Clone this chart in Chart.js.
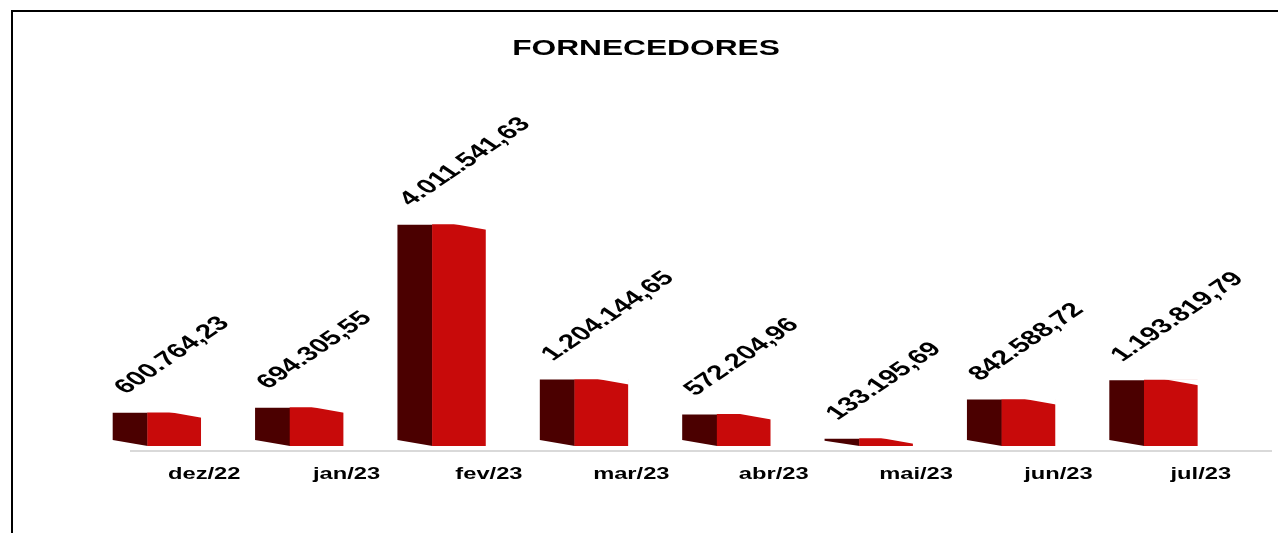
<!DOCTYPE html>
<html>
<head>
<meta charset="utf-8">
<title>FORNECEDORES</title>
<script src="https://cdn.jsdelivr.net/npm/chart.js@4/dist/chart.umd.min.js"></script>
<style>
    body { margin: 0; background: #fff; }
    canvas { display: block; }
</style>
</head>
<body>
<canvas id="fornecedores_chart" width="1278" height="533"></canvas>
<script>
const chartTitle = "FORNECEDORES";
const months = ["dez/22", "jan/23", "fev/23", "mar/23", "abr/23", "mai/23", "jun/23", "jul/23"];
const totals = [600764.23, 694305.55, 4011541.63, 1204144.65, 572204.96, 133195.69, 842588.72, 1193819.79];

const barDepth = 35;      // width of the dark side face
const textStretch = 1.48; // the picture is stretched sideways
const fontName = '"Liberation Sans", Arial, sans-serif';

function formatValue(value) {
    let parts = value.toFixed(2).split(".");
    return parts[0].replace(/\B(?=(\d{3})+(?!\d))/g, ".") + "," + parts[1];
}

function stretchedText(ctx, text, x, y, angle, stretch = textStretch) {
    ctx.save();
    ctx.translate(x, y);
    ctx.scale(stretch, 1);
    if(angle) ctx.rotate(angle);
    ctx.fillText(text, 0, 0);
    ctx.restore();
}

const fakeThreeD = {
    id: "fakeThreeD",
    beforeDatasetsDraw(chart) {
        let ctx = chart.ctx;
        let bars = chart.getDatasetMeta(0).data;
        ctx.save();

        // floor line, pushed back like the 3D floor
        ctx.strokeStyle = "#d9d9d9";
        ctx.lineWidth = 2;
        ctx.beginPath();
        ctx.moveTo(chart.chartArea.left + 27, chart.chartArea.bottom + 5);
        ctx.lineTo(chart.chartArea.right + 30, chart.chartArea.bottom + 5);
        ctx.stroke();

        ctx.fillStyle = "#4b0000";
        bars.forEach(bar => {
            let left = bar.x - bar.width / 2;
            ctx.beginPath();
            ctx.moveTo(left - barDepth, bar.y);
            ctx.lineTo(left, bar.y);
            ctx.lineTo(left, bar.base);
            ctx.lineTo(left - barDepth, Math.max(bar.base - 6, bar.y + 2));
            ctx.closePath();
            ctx.fill();
        });
        ctx.restore();
    },
    afterDatasetsDraw(chart) {
        // slanted top edge of the front face
        let ctx = chart.ctx;
        ctx.save();
        ctx.fillStyle = "#fff";
        chart.getDatasetMeta(0).data.forEach(bar => {
            let left = bar.x - bar.width / 2;
            let right = bar.x + bar.width / 2;
            ctx.beginPath();
            ctx.moveTo(left + 20, bar.y - 1);
            ctx.lineTo(right + 1, bar.y - 1);
            ctx.lineTo(right + 1, bar.y + 5);
            ctx.closePath();
            ctx.fill();
        });
        ctx.restore();
    },
    afterDraw(chart) {
        let ctx = chart.ctx;
        let bars = chart.getDatasetMeta(0).data;
        let xScale = chart.scales.x;
        ctx.save();
        ctx.fillStyle = "#000";

        // title
        ctx.font = `bold 22px ${fontName}`;
        ctx.textAlign = "center";
        ctx.textBaseline = "alphabetic";
        stretchedText(ctx, chartTitle, 646, 55, 0, 1.44);

        // value labels
        ctx.font = `bold 20px ${fontName}`;
        ctx.textAlign = "left";
        bars.forEach((bar, i) => {
            let left = bar.x - bar.width / 2;
            stretchedText(ctx, formatValue(totals[i]), left - 22, bar.y - 18, -Math.PI / 4);
        });

        // month labels
        ctx.font = `bold 16px ${fontName}`;
        ctx.textAlign = "center";
        months.forEach((month, i) => {
            stretchedText(ctx, month, xScale.getPixelForValue(i) + 30, 479);
        });

        // frame
        ctx.strokeStyle = "#000";
        ctx.lineWidth = 2;
        ctx.beginPath();
        ctx.moveTo(12, 533);
        ctx.lineTo(12, 11);
        ctx.lineTo(1278, 11);
        ctx.stroke();
        ctx.restore();
    }
};

new Chart(document.getElementById("fornecedores_chart").getContext("2d"), {
    type: "bar",
    data: {
        labels: months,
        datasets: [{
            label: chartTitle,
            data: totals,
            backgroundColor: "#c80a0a",
            borderWidth: 0,
            barThickness: 53
        }]
    },
    options: {
        responsive: false,
        animation: false,
        layout: {
            padding: { top: 115, bottom: 87, left: 103, right: 36 }
        },
        plugins: {
            legend: { display: false },
            title: { display: false },
            tooltip: { enabled: false }
        },
        scales: {
            x: {
                display: false
            },
            y: {
                display: false,
                min: 0,
                max: 6000000
            }
        }
    },
    plugins: [fakeThreeD]
});
</script>
</body>
</html>
